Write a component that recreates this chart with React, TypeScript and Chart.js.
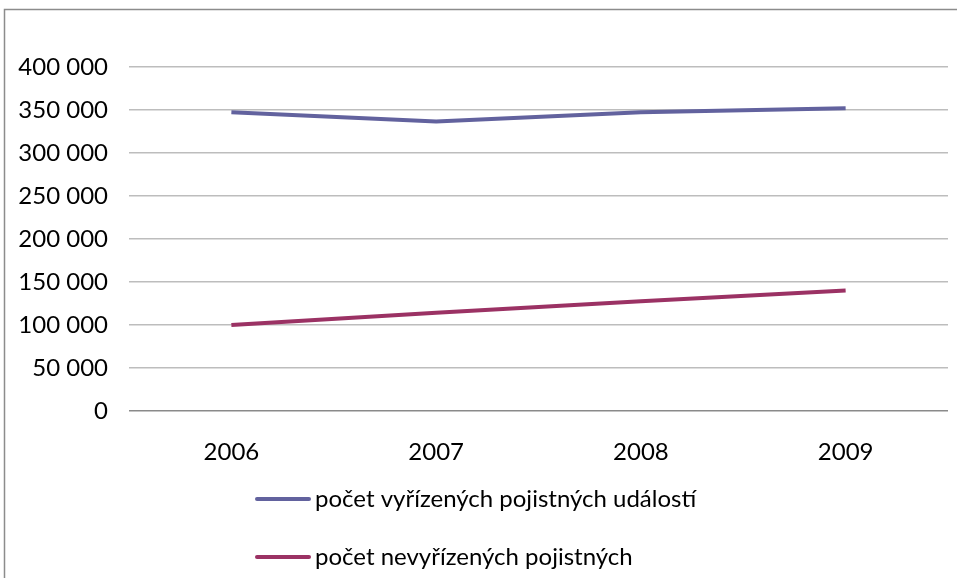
import React, { useEffect, useRef } from "react";
import { Chart, registerables } from "chart.js";

Chart.register(...registerables);

const years = ["2006", "2007", "2008", "2009"];
const vyrizene = [347500, 336500, 347300, 352000];
const nevyrizene = [100000, 114300, 127600, 140000];
const seriesLabels = [
  "počet vyřízených pojistných událostí",
  "počet nevyřízených pojistných",
];
const seriesColors = ["#62629e", "#9b3264"];

const FONT = "Lato, 'Liberation Sans', sans-serif";

// thousands separated by a space: 350 000
const fmt = (v: number) =>
  String(Math.round(v)).replace(/\B(?=(\d{3})+(?!\d))/g, " ");

// outer frame plus a stacked legend below the plot
const framePlugin = {
  id: "frameAndLegend",
  afterDraw(chart: any) {
    const ctx = chart.ctx;
    ctx.save();
    ctx.strokeStyle = "#8c8c8c";
    ctx.lineWidth = 1.5;
    ctx.beginPath();
    ctx.moveTo(4.5, chart.height + 2);
    ctx.lineTo(4.5, 9.5);
    ctx.lineTo(chart.width + 2, 9.5);
    ctx.stroke();

    ctx.font = `24px ${FONT}`;
    ctx.textBaseline = "middle";
    ctx.fillStyle = "#000";
    chart.data.datasets.forEach((ds: any, i: number) => {
      const y = 499 + i * 58;
      ctx.strokeStyle = ds.borderColor;
      ctx.lineWidth = 4;
      ctx.lineCap = "round";
      ctx.beginPath();
      ctx.moveTo(257, y);
      ctx.lineTo(309, y);
      ctx.stroke();
      ctx.fillText(ds.label, 315, y);
    });
    ctx.restore();
  },
};

export default function App() {
  const ref = useRef<HTMLCanvasElement>(null);

  useEffect(() => {
    if (!ref.current) return;
    const chart = new Chart(ref.current, {
      type: "line",
      data: {
        labels: years,
        datasets: [
          {
            label: seriesLabels[0],
            data: vyrizene,
            borderColor: seriesColors[0],
            backgroundColor: seriesColors[0],
            borderWidth: 4,
            pointRadius: 0,
            tension: 0,
          },
          {
            label: seriesLabels[1],
            data: nevyrizene,
            borderColor: seriesColors[1],
            backgroundColor: seriesColors[1],
            borderWidth: 4,
            pointRadius: 0,
            tension: 0,
          },
        ],
      },
      options: {
        animation: false,
        responsive: false,
        devicePixelRatio: 1,
        layout: { padding: { left: 0, top: 67, right: 9, bottom: 107 } },
        plugins: {
          legend: { display: false },
          tooltip: { enabled: false },
        },
        scales: {
          x: {
            offset: true,
            grid: { display: false, drawTicks: false },
            border: { display: false },
            ticks: {
              padding: 27,
              color: "#000",
              font: { family: FONT, size: 24 },
            },
            afterFit: (s: any) => {
              s.height = 60;
            },
          },
          y: {
            min: 0,
            max: 400000,
            grid: {
              drawTicks: false,
              color: (c: any) => (c.tick && c.tick.value === 0 ? "#8a8a8a" : "#bdbdbd"),
              lineWidth: 1.5,
            },
            border: { display: false },
            ticks: {
              stepSize: 50000,
              padding: 21,
              color: "#000",
              font: { family: FONT, size: 24 },
              callback: (v: any) => fmt(Number(v)),
            },
            afterFit: (s: any) => {
              s.width = 129;
            },
          },
        },
      },
      plugins: [framePlugin],
    });
    return () => chart.destroy();
  }, []);

  return (
    <div
      style={{
        position: "fixed",
        left: 0,
        top: 0,
        width: 957,
        height: 578,
        overflow: "hidden",
        background: "#fff",
      }}
    >
      <canvas ref={ref} width={957} height={578} style={{ display: "block" }} />
    </div>
  );
}
